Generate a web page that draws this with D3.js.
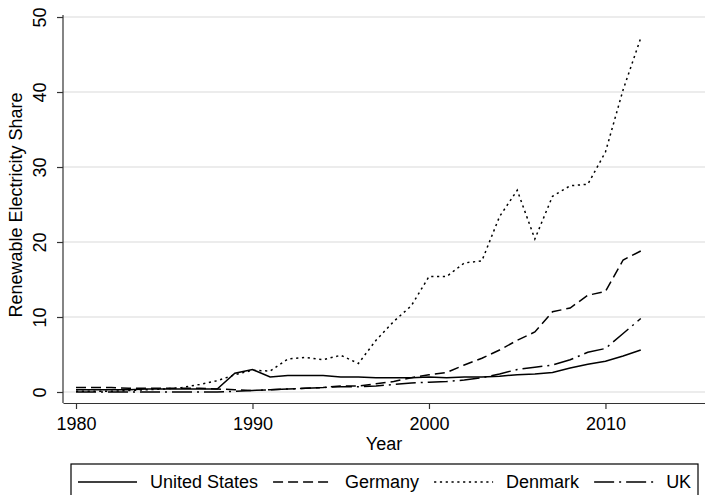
<!DOCTYPE html>
<meta charset="UTF-8">
<style>
body { margin: 0; background: #fff; }
text { font-family: "Liberation Sans", Arial, sans-serif; fill: #000; }
.grid line { stroke: #e6e6e6; stroke-width: 1.5px; }
.axis path, .axis line { stroke: #333; stroke-width: 1.2px; }
.series { fill: none; stroke: #000; stroke-width: 1.5px; }
</style>
<body>
<script src="https://cdnjs.cloudflare.com/ajax/libs/d3/7.8.5/d3.min.js"></script>
<script>
// years 1980..2012
const years = d3.range(1980, 2013);

// renewable electricity share (%)
const unitedStates = [0.3, 0.3, 0.3, 0.3, 0.4, 0.4, 0.4, 0.4, 0.4, 2.5,
  3.0, 2.0, 2.2, 2.2, 2.2, 2.0, 2.0, 1.9, 1.9, 1.9,
  2.0, 1.9, 2.0, 2.0, 2.1, 2.3, 2.4, 2.6, 3.2, 3.7,
  4.1, 4.8, 5.6];
const germany = [0.6, 0.6, 0.6, 0.5, 0.5, 0.5, 0.5, 0.5, 0.4, 0.3,
  0.2, 0.3, 0.4, 0.5, 0.6, 0.8, 0.8, 1.1, 1.4, 1.9,
  2.3, 2.6, 3.6, 4.5, 5.6, 6.9, 8.0, 10.7, 11.2, 12.9,
  13.4, 17.6, 18.8];
const denmark = [0.1, 0.1, 0.1, 0.2, 0.3, 0.4, 0.6, 1.0, 1.5, 2.3,
  2.9, 2.8, 4.4, 4.6, 4.3, 4.9, 3.8, 6.9, 9.4, 11.5,
  15.4, 15.4, 17.2, 17.5, 23.4, 26.9, 20.4, 26.1, 27.5, 27.7,
  32.0, 40.3, 47.2];
const uk = [0.0, 0.0, 0.0, 0.0, 0.0, 0.0, 0.0, 0.0, 0.0, 0.1,
  0.2, 0.3, 0.4, 0.5, 0.6, 0.7, 0.7, 0.8, 1.0, 1.2,
  1.3, 1.4, 1.6, 1.9, 2.4, 3.0, 3.3, 3.6, 4.3, 5.3,
  5.8, 7.8, 9.8];

const seriesNames = ["United States", "Germany", "Denmark", "UK"];
const xTicks = [1980, 1990, 2000, 2010];
const yTicks = [0, 10, 20, 30, 40, 50];

const series = [
  {name: seriesNames[0], values: unitedStates, dash: null},
  {name: seriesNames[1], values: germany, dash: "10,5"},
  {name: seriesNames[2], values: denmark, dash: "2.2,3.6"},
  {name: seriesNames[3], values: uk, dash: "20,5,2,5"}
];

const width = 705, height = 495;
const plot = {left: 63, right: 705, top: 15, bottom: 403};

const svg = d3.select("body").append("svg")
    .attr("width", width)
    .attr("height", height);

// plot region is a bit wider than the data range, as Stata does
const x = d3.scaleLinear().domain([1979.263, 2015.64]).range([plot.left, plot.right]);
const y = d3.scaleLinear().domain([-1.467, 50.27]).range([plot.bottom, plot.top]);

// gridlines
svg.append("g").attr("class", "grid")
  .selectAll("line").data(yTicks).join("line")
    .attr("x1", plot.left).attr("x2", plot.right)
    .attr("y1", d => y(d)).attr("y2", d => y(d));

// lines
const line = d3.line().x((d, i) => x(years[i])).y(d => y(d));
svg.selectAll("path.series").data(series).join("path")
    .attr("class", "series")
    .attr("d", d => line(d.values))
    .attr("stroke-dasharray", d => d.dash);

// x axis
const xAxis = svg.append("g").attr("class", "axis")
    .attr("transform", `translate(0,${plot.bottom})`)
    .call(d3.axisBottom(x).tickValues(xTicks).tickFormat(d3.format("d")).tickSize(6).tickSizeOuter(0));
xAxis.selectAll("text").attr("y", 27).attr("dy", 0).style("font-size", "18px");

// y axis with rotated labels
const yAxis = svg.append("g").attr("class", "axis")
    .attr("transform", `translate(${plot.left},0)`)
    .call(d3.axisLeft(y).tickValues(yTicks).tickSize(6).tickSizeOuter(0));
yAxis.selectAll("text")
    .attr("x", null).attr("dy", "0.35em")
    .attr("text-anchor", "middle")
    .attr("transform", "translate(-23.5,0) rotate(-90)")
    .style("font-size", "18px");
yAxis.selectAll(".domain").attr("d", `M0,${plot.top}V${plot.bottom}`);

// axis titles
svg.append("text")
    .attr("x", (plot.left + plot.right) / 2).attr("y", 450)
    .attr("text-anchor", "middle")
    .style("font-size", "18px")
    .text("Year");
svg.append("text")
    .attr("transform", "translate(16,205) rotate(-90)")
    .attr("dy", "0.35em")
    .attr("text-anchor", "middle")
    .style("font-size", "18px")
    .text("Renewable Electricity Share");

// legend
const legend = svg.append("g");
legend.append("rect")
    .attr("x", 71).attr("y", 464)
    .attr("width", 627).attr("height", 45)
    .attr("fill", "none").attr("stroke", "#000").attr("stroke-width", 1.2);

let lx = 78;
series.forEach(s => {
  legend.append("line")
      .attr("class", "series")
      .attr("x1", lx).attr("x2", lx + 59)
      .attr("y1", 482).attr("y2", 482)
      .attr("stroke-dasharray", s.dash);
  const t = legend.append("text")
      .attr("x", lx + 72).attr("y", 488)
      .style("font-size", "18px")
      .text(s.name);
  lx += 72 + t.node().getComputedTextLength() + 15;
});
</script>
</body>
